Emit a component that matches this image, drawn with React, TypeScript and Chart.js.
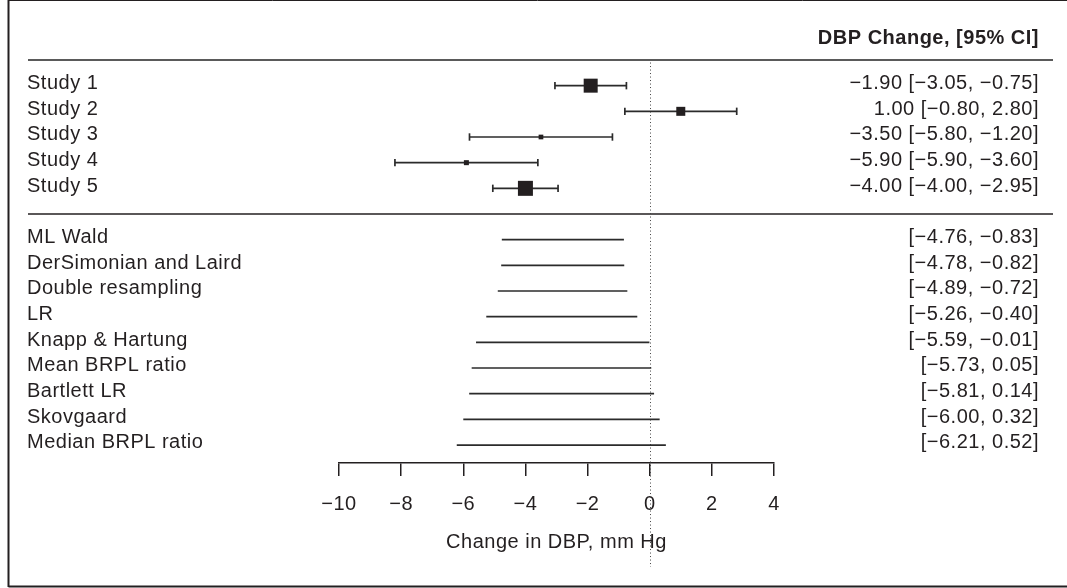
import React, { useEffect, useRef } from 'react';
import { Chart, registerables } from 'chart.js';

Chart.register(...registerables);

// ---------- data ----------
const studyLabels = ['Study 1', 'Study 2', 'Study 3', 'Study 4', 'Study 5'];
const studyEstimates = [-1.9, 1.0, -3.5, -5.9, -4.0];
const studyLower = [-3.05, -0.8, -5.8, -8.2, -5.05];
const studyUpper = [-0.75, 2.8, -1.2, -3.6, -2.95];
const studyWeights = [14, 9, 4.7, 5, 15];
const studyCiText = [
  '\u22121.90 [\u22123.05, \u22120.75]',
  '1.00 [\u22120.80, 2.80]',
  '\u22123.50 [\u22125.80, \u22121.20]',
  '\u22125.90 [\u22125.90, \u22123.60]',
  '\u22124.00 [\u22124.00, \u22122.95]',
];

const methodLabels = [
  'ML Wald',
  'DerSimonian and Laird',
  'Double resampling',
  'LR',
  'Knapp & Hartung',
  'Mean BRPL ratio',
  'Bartlett LR',
  'Skovgaard',
  'Median BRPL ratio',
];
const methodLower = [-4.76, -4.78, -4.89, -5.26, -5.59, -5.73, -5.81, -6.0, -6.21];
const methodUpper = [-0.83, -0.82, -0.72, -0.4, -0.01, 0.05, 0.14, 0.32, 0.52];

const headerText = 'DBP Change, [95% CI]';
const axisTitle = 'Change in DBP, mm Hg';
const xMin = -10;
const xMax = 4;
const xStep = 2;

// ---------- helpers ----------
const INK = '#231f20';
const FONT = "'Liberation Sans', Arial, Helvetica, sans-serif";
const FS = 20;
const LABEL_SHIFT = 0.09; // text sits slightly above its row line
const minus = (s: string) => s.replace(/-/g, '\u2212');
const fmt2 = (v: number) => minus(v.toFixed(2));

const studyRows = studyLabels.map((_, i) => i + 1);
const sepRow = studyLabels.length + 1;
const methodRows = methodLabels.map((_, i) => i + studyLabels.length + 2);
const headerRow = -0.84;
const yMin = -1.48;
const yMax = methodRows[methodRows.length - 1] + 0.7;

const leftMap = new Map<number, string>();
studyRows.forEach((r, i) => leftMap.set(r - LABEL_SHIFT, studyLabels[i]));
methodRows.forEach((r, i) => leftMap.set(r - LABEL_SHIFT, methodLabels[i]));

const rightMap = new Map<number, string>();
rightMap.set(headerRow, headerText);
studyRows.forEach((r, i) => rightMap.set(r - LABEL_SHIFT, studyCiText[i]));
methodRows.forEach((r, i) =>
  rightMap.set(r - LABEL_SHIFT, `[${fmt2(methodLower[i])}, ${fmt2(methodUpper[i])}]`)
);

const decorPlugin = {
  id: 'decor',
  beforeDraw(chart: any) {
    const { ctx } = chart;
    ctx.save();
    ctx.fillStyle = '#ffffff';
    ctx.fillRect(0, 0, chart.width, chart.height);
    ctx.strokeStyle = INK;
    ctx.lineWidth = 2;
    ctx.beginPath();
    ctx.moveTo(8.5, 0);
    ctx.lineTo(8.5, 587);
    ctx.moveTo(8.5, 586.5);
    ctx.lineTo(chart.width, 586.5);
    ctx.stroke();
    ctx.lineWidth = 1;
    ctx.beginPath();
    ctx.moveTo(8, 0.5);
    ctx.lineTo(chart.width, 0.5);
    ctx.stroke();
    ctx.restore();
    (ctx as any).letterSpacing = '0.5px';
  },
  beforeDatasetsDraw(chart: any) {
    const { ctx } = chart;
    const xs = chart.scales.x;
    const ys = chart.scales.y;
    ctx.save();
    // rules
    ctx.strokeStyle = '#5a5a5a';
    ctx.lineWidth = 2;
    const y0 = ys.getPixelForValue(0);
    ctx.beginPath();
    ctx.moveTo(28, y0);
    ctx.lineTo(chart.width - 14, y0);
    ctx.stroke();
    ctx.strokeStyle = INK;
    ctx.lineWidth = 1.5;
    const y1 = ys.getPixelForValue(sepRow);
    ctx.beginPath();
    ctx.moveTo(28, y1);
    ctx.lineTo(chart.width - 14, y1);
    ctx.stroke();
    // dotted reference line at 0
    const x0 = Math.round(xs.getPixelForValue(0)) + 0.5;
    ctx.strokeStyle = '#444';
    ctx.lineWidth = 1;
    ctx.setLineDash([1, 2.5]);
    ctx.beginPath();
    ctx.moveTo(x0, ys.getPixelForValue(0.1));
    ctx.lineTo(x0, ys.getPixelForValue(19.75));
    ctx.stroke();
    ctx.restore();
  },
};

export default function App() {
  const ref = useRef<HTMLCanvasElement>(null);

  useEffect(() => {
    if (!ref.current) return;
    Chart.defaults.font.family = FONT;

    const studyLineSets = studyRows.map((r, i) => ({
      type: 'line' as const,
      data: [
        { x: studyLower[i], y: r },
        { x: studyUpper[i], y: r },
      ],
      showLine: true,
      borderColor: '#2b2b2b',
      borderWidth: 1.7,
      pointStyle: 'line' as const,
      pointRotation: 90,
      pointRadius: 3.7,
      pointBorderWidth: 1.7,
      pointBorderColor: '#2b2b2b',
      pointBackgroundColor: '#2b2b2b',
      order: 1,
      yAxisID: 'y',
    }));

    const methodLineSets = methodRows.map((r, i) => ({
      type: 'line' as const,
      data: [
        { x: methodLower[i], y: r },
        { x: methodUpper[i], y: r },
      ],
      showLine: true,
      borderColor: '#2b2b2b',
      borderWidth: 1.7,
      pointRadius: 0,
      order: 1,
      yAxisID: 'y',
    }));

    const squareSet = {
      type: 'scatter' as const,
      data: studyRows.map((r, i) => ({ x: studyEstimates[i], y: r })),
      pointStyle: 'rect' as const,
      pointRadius: studyWeights.map((w) => w / Math.SQRT2),
      pointBackgroundColor: INK,
      pointBorderWidth: 0,
      borderWidth: 0,
      order: 0,
      yAxisID: 'y',
    };

    const chart = new Chart(ref.current, {
      type: 'scatter',
      data: { datasets: [squareSet, ...studyLineSets, ...methodLineSets] as any },
      plugins: [decorPlugin],
      options: {
        animation: false,
        responsive: false,
        devicePixelRatio: 1,
        events: [],
        layout: { autoPadding: false, padding: { left: 27, right: 28, top: 22, bottom: 0 } },
        plugins: { legend: { display: false }, tooltip: { enabled: false } },
        scales: {
          x: {
            type: 'linear',
            position: 'bottom',
            min: xMin,
            max: xMax,
            ticks: {
              stepSize: xStep,
              padding: 16,
              color: INK,
              font: { size: FS },
              callback: (v: any) => minus(String(v)),
            },
            grid: {
              display: true,
              drawOnChartArea: false,
              drawTicks: true,
              tickLength: 13,
              color: INK,
              lineWidth: 1.5,
            },
            border: { display: true, color: INK, width: 1.5 },
            title: {
              display: true,
              text: axisTitle,
              color: INK,
              font: { size: FS, lineHeight: 1.2 },
              padding: { top: 0, bottom: 34 },
            },
            afterFit: (s: any) => {
              s.height = 125;
            },
          },
          y: {
            type: 'linear',
            position: 'left',
            reverse: true,
            min: yMin,
            max: yMax,
            grid: { display: false },
            border: { display: false },
            afterBuildTicks: (s: any) => {
              s.ticks = Array.from(leftMap.keys()).map((v) => ({ value: v }));
            },
            afterFit: (s: any) => {
              s.width = 312;
            },
            ticks: {
              autoSkip: false,
              crossAlign: 'far',
              color: INK,
              font: { size: FS },
              callback: (v: any) => leftMap.get(v) ?? '',
            },
          },
          y2: {
            type: 'linear',
            position: 'right',
            reverse: true,
            min: yMin,
            max: yMax,
            grid: { display: false },
            border: { display: false },
            afterBuildTicks: (s: any) => {
              s.ticks = Array.from(rightMap.keys()).map((v) => ({ value: v }));
            },
            afterFit: (s: any) => {
              s.width = 265;
            },
            ticks: {
              autoSkip: false,
              crossAlign: 'far',
              color: INK,
              font: (ctx: any) => ({
                size: FS,
                weight: ctx.tick && ctx.tick.value === headerRow ? 'bold' : 'normal',
              }),
              callback: (v: any) => rightMap.get(v) ?? '',
            },
          },
        },
      } as any,
    });

    return () => chart.destroy();
  }, []);

  return (
    <div style={{ position: 'absolute', left: 0, top: 0, width: 1067, height: 588 }}>
      <canvas
        ref={ref}
        width={1067}
        height={588}
        style={{ display: 'block', width: 1067, height: 588 }}
      />
    </div>
  );
}
